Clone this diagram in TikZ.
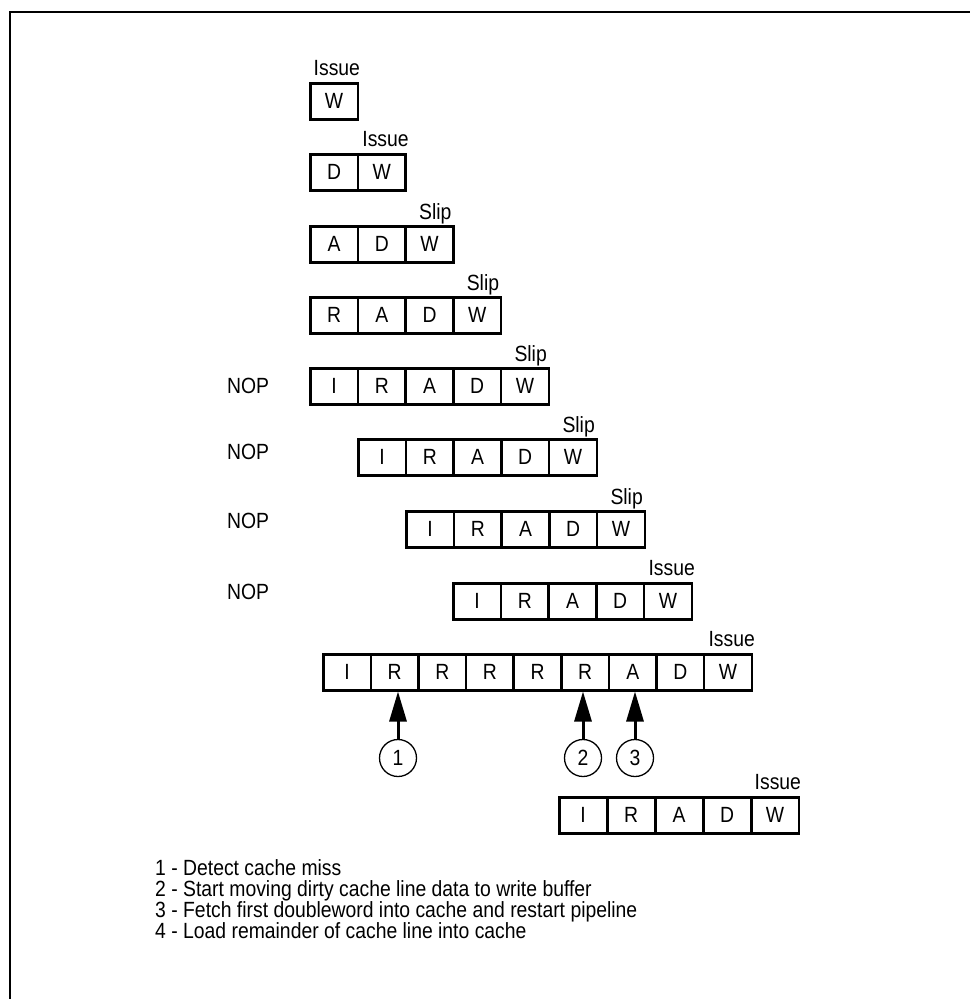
\documentclass[tikz,border=0pt]{standalone}
\usepackage{fontspec}
\setmainfont{Liberation Sans}[FakeStretch=0.88]
\usetikzlibrary{arrows.meta}
\begin{document}
\begin{tikzpicture}[x=1pt,y=-1pt,
  every node/.style={font=\fontsize{22}{23}\selectfont},
  cell/.style={draw, line width=2.5pt, minimum width=47.7pt, minimum height=36pt, inner sep=0pt, anchor=north west},
  lab/.style={inner sep=0pt, anchor=base east},
  nop/.style={inner sep=0pt, anchor=west},
  circ/.style={circle, draw, line width=1.3pt, minimum size=37pt, inner sep=0pt},
  arr/.style={line width=3pt, -{Triangle[width=17pt,length=30pt]}},
  legend/.style={inner sep=0pt, anchor=base west}]
\useasboundingbox (0,0) rectangle (970,999);
\draw[line width=2.5pt] (10,999) -- (10,12) -- (970,12);
% row 1
\foreach \l [count=\i] in {W} \node[cell] (r1c\i) at ({309+(\i-1)*47.7},82) {\l};
\node[lab] (lab1) at ([xshift=1pt,yshift=7pt]r1c1.north east) {Issue};
% row 2
\foreach \l [count=\i] in {D,W} \node[cell] (r2c\i) at ({309+(\i-1)*47.7},153) {\l};
\node[lab] (lab2) at ([xshift=2pt,yshift=7pt]r2c2.north east) {Issue};
% row 3
\foreach \l [count=\i] in {A,D,W} \node[cell] (r3c\i) at ({309+(\i-1)*47.7},225) {\l};
\node[lab] (lab3) at ([xshift=-3pt,yshift=6pt]r3c3.north east) {Slip};
% row 4
\foreach \l [count=\i] in {R,A,D,W} \node[cell] (r4c\i) at ({309+(\i-1)*47.7},296) {\l};
\node[lab] (lab4) at ([xshift=-3pt,yshift=6pt]r4c4.north east) {Slip};
% row 5
\foreach \l [count=\i] in {I,R,A,D,W} \node[cell] (r5c\i) at ({309+(\i-1)*47.7},367) {\l};
\node[lab] (lab5) at ([xshift=-3pt,yshift=6pt]r5c5.north east) {Slip};
\node[nop] (n5) at (227,386) {NOP};
% row 6
\foreach \l [count=\i] in {I,R,A,D,W} \node[cell] (r6c\i) at ({357+(\i-1)*47.7},438) {\l};
\node[lab] (lab6) at ([xshift=-3pt,yshift=6pt]r6c5.north east) {Slip};
\node[nop] (n6) at (227,452) {NOP};
% row 7
\foreach \l [count=\i] in {I,R,A,D,W} \node[cell] (r7c\i) at ({405+(\i-1)*47.7},510) {\l};
\node[lab] (lab7) at ([xshift=-3pt,yshift=6pt]r7c5.north east) {Slip};
\node[nop] (n7) at (227,521) {NOP};
% row 8
\foreach \l [count=\i] in {I,R,A,D,W} \node[cell] (r8c\i) at ({452+(\i-1)*47.7},582) {\l};
\node[lab] (lab8) at ([xshift=2pt,yshift=7pt]r8c5.north east) {Issue};
\node[nop] (n8) at (227,592) {NOP};
% row 9
\foreach \l [count=\i] in {I,R,R,R,R,R,A,D,W} \node[cell] (r9c\i) at ({322+(\i-1)*47.6},653) {\l};
\node[lab] (lab9) at ([xshift=2pt,yshift=7pt]r9c9.north east) {Issue};
% circles and arrows
\node[circ] (c1) at (398,758) {1};
\node[circ] (c2) at (583,758) {2};
\node[circ] (c3) at (635,758) {3};
\draw[arr] (c1.north) -- (c1.north |- r9c2.south);
\draw[arr] (c2.north) -- (c2.north |- r9c6.south);
\draw[arr] (c3.north) -- (c3.north |- r9c7.south);
% row 10
\foreach \l [count=\i] in {I,R,A,D,W} \node[cell] (r10c\i) at ({558+(\i-1)*48},796) {\l};
\node[lab] (lab10) at ([xshift=1pt,yshift=7pt]r10c5.north east) {Issue};
% legend
\node[legend] (g1) at (155,875) {1 - Detect cache miss};
\node[legend] (g2) at (155,896) {2 - Start moving dirty cache line data to write buffer};
\node[legend] (g3) at (155,917) {3 - Fetch first doubleword into cache and restart pipeline};
\node[legend] (g4) at (155,938) {4 - Load remainder of cache line into cache};
\end{tikzpicture}
\end{document}
